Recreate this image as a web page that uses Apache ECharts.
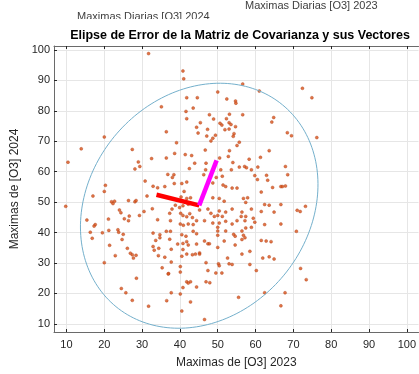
<!DOCTYPE html>
<html><head><meta charset="utf-8">
<script src="https://cdn.jsdelivr.net/npm/echarts@6/dist/echarts.min.js"></script>
<style>html,body{margin:0;padding:0;background:#fff}#c{width:419px;height:374px}</style>
</head><body><div id="c"></div>
<script>
// Daily maxima pairs: [O3 2023, O3 2024]
const dailyMaxPairs = [
[31.7,98.8],[35.1,81.3],[20,71.4],[36.4,73.1],[13.9,67.5],[27.4,67.3],[10.4,63.1],[29.0,63.2],[32.5,64.3],[36.4,64.5],[29.4,61.7],[28.1,60.9],[36.8,59.1],[20.3,55.5],[30.8,56.9],[32.9,55.2],[34.1,54.7],[36.0,55.1],
[40.8,93.1],[41.0,90.5],[56.6,88.8],[50.0,86.2],[61.0,86.5],[41.8,84.3],[44.6,84.3],[52.4,83.9],[54.7,83.2],[54.8,82.5],[43.5,80.9],[41.6,79.8],[47.8,78.7],[53.1,78.9],[56.6,78.7],[41.8,77.4],[48.9,77.3],[52.3,77.4],[64.8,77.8],[45.4,76.1],[50.6,75.9],[51.1,75.3],[53.0,76.1],[53.5,75.5],[64.3,76.3],[54.7,74.8],[44.4,74.6],[47.3,73.9],[51.9,73.8],[53.0,74.0],[44.8,72.7],[49.4,72.0],[54.3,72.5],[54.1,71.6],[47.1,71.7],[48.7,71.0],[48.2,70.1],[39.1,69.5],[55.7,69.7],[55.1,68.6],[46.7,67.1],[63.6,66.9],[38.6,66.0],[41.4,65.6],[43.1,65.3],[53.1,66.9],[52.8,65.0],[50.5,64.5],[46.9,62.8],[43.9,62.8],[54.0,63.0],[58.3,64.1],[61.3,64.7],[42.5,61.0],[46.8,60.6],[50.8,60.6],[55.7,61.5],[57.1,61.7],[57.6,61.3],[58.9,60.6],[60.6,61.5],[53.6,60.6],[38.4,59.0],[46.3,59.0],[49.6,58.1],[51.2,58.5],[59.8,58.7],[62.9,58.8],[38.0,58.1],[38.5,56.1],[40.5,56.1],[41.8,56.6],[48.7,56.3],[51.4,55.6],[52.1,55.1],[53.8,54.6],[55.1,54.6],[60.5,57.4],[63.2,57.2],[64.5,54.8],[66.7,55.1],
[72.4,87.4],[74.9,84.3],[68.4,72.8],[69.5,71.8],[76.2,71.2],[67.9,61.7],[68.5,59.0],[67.1,55.1],[67.9,55.3],
[20.0,53.5],[17.0,52.0],[9.8,48.6],[21.9,50.1],[22.7,50.3],[22.3,49.5],[26.4,50.5],[28.1,50.1],[28.4,50.5],[31.3,52.0],[24.0,47.4],[24.4,46.5],[26.6,45.4],[29.3,45.6],[30.5,46.9],[32.7,47.8],[15.4,44.1],[21.1,44.4],[25.3,44.5],[26.4,43.9],[34.1,44.2],[17.6,42.6],[17.3,42.1],[16.3,40.1],[19.5,39.9],[21.2,40.7],[23.6,40.9],[23.8,40.1],[25.0,39.4],[32.9,39.8],[34.7,39.3],[36.4,40.4],[16.8,38.1],[24.7,37.7],[33.6,37.4],[34.7,38.3],[21.4,35.8],[32.9,35.4],[34.4,34.8],[26.1,34.8],[33.2,34.2],[26.9,33.2],[27.4,32.7],[28.4,32.5],[22.9,32.4],[34.3,32.4],[27.7,31.6],[36.0,31.9],[20.0,30.1],[35.3,28.4],[37.0,26.5],[28.5,25.0],[24.5,21.6],[25.7,20.2],[27.4,17.7],[36.5,17.6],[31.7,15.8],
[41.1,53.5],[40.3,51.7],[41.8,51.2],[42.8,51.4],[38.8,49.0],[39.9,48.2],[40.8,48.8],[42.2,49.3],[37.9,47.7],[37.3,46.3],[40.2,46.3],[40.8,45.6],[41.8,45.2],[42.6,46.2],[43.3,44.9],[37.5,43.9],[40.1,42.8],[40.9,42.4],[42.2,42.8],[43.5,42.6],[44.4,43.9],[37.5,40.4],[40.5,39.3],[41.6,38.8],[43.5,40.4],[44.4,39.6],[37.3,37.8],[39.4,36.2],[40.8,36.4],[41.8,37.0],[42.2,35.9],[44.4,36.2],[40.8,34.4],[37.7,34.5],[41.8,32.9],[43.3,32.7],[44.1,32.9],[45.2,33.3],[40.5,32.2],[37.7,30.3],[40.1,28.8],[36.9,26.4],[40.1,27.0],[41.8,23.8],[42.8,23.8],[42.2,23.4],[44.4,22.1],[40.8,21.9],[37.7,20.2],[40.1,19.8],[42.8,17.2],[40.5,14.2],[46.5,11.4],
[48.7,51.4],[50.4,51.2],[51.7,50.3],[56.8,51.2],[57.9,51.4],[57.4,49.9],[61.5,53.3],[62.4,49.2],[63.6,49.0],[66.7,49.2],[45.2,47.4],[47.4,47.7],[48.2,46.3],[49.1,45.3],[50.4,47.1],[50.0,45.6],[51.2,45.3],[52.1,46.7],[53.8,47.7],[56.4,46.7],[58.9,47.7],[61.5,46.9],[64.9,46.7],[57.4,45.3],[56.2,45.3],[59.4,44.7],[46.5,43.9],[48.7,43.1],[50.0,41.7],[50.4,43.1],[52.1,43.7],[53.8,42.8],[55.1,43.9],[57.2,43.9],[59.8,43.4],[57.4,41.5],[58.9,41.7],[56.4,40.5],[52.1,40.5],[50.0,40.5],[62.4,42.6],[66.7,42.8],[54.2,39.4],[54.6,38.8],[56.8,39.1],[57.2,38.3],[56.4,37.7],[50.0,39.1],[47.4,36.3],[47.8,36.3],[46.5,37.2],[51.7,37.2],[54.6,35.9],[61.5,37.4],[62.8,37.2],[64.1,37.0],[45.2,32.9],[50.0,35.1],[52.6,31.6],[56.4,32.9],[58.5,33.8],[61.9,31.6],[63.6,32.0],[64.9,31.3],[46.9,30.1],[50.2,29.7],[50.4,29.1],[53.0,29.7],[53.8,29.5],[58.5,29.5],[60.2,27.5],[49.5,26.7],[51.1,26.7],[47.4,27.5],[46.9,23.8],[47.9,23.5],[55.5,18.7],[62.4,20.2],[66.7,15.9],
[71.0,47.3],[71.8,46.9],[73.2,48.6],[70.8,40.4],[71.9,28.2],[73.4,24.5],[67.8,20.2]
];
const xTicks = [10,20,30,40,50,60,70,80,90,100];
const yTicks = [10,20,30,40,50,60,70,80,90,100];
const xRange = [6.7, 103.1];
const yRange = [7.3, 101.3];
// Eigenvectors (origin and tips)
const vecOrigin = [45.1, 48.9];
const vecMinorEnd = [33.8, 52.4];
const vecMajorEnd = [49.7, 63.7];
// Error ellipse parameters
const ellipseCenter = [45.1, 48.8];
const ellipseSemiAxes = [41.1, 30.3];
const ellipseAngleDeg = 72.7;

const ellipsePts = [];
{
  const th = ellipseAngleDeg * Math.PI / 180;
  for (let i = 0; i <= 200; i++) {
    const t = i / 200 * 2 * Math.PI;
    const a = ellipseSemiAxes[0] * Math.cos(t), b = ellipseSemiAxes[1] * Math.sin(t);
    ellipsePts.push([ellipseCenter[0] + a * Math.cos(th) - b * Math.sin(th),
                     ellipseCenter[1] + a * Math.sin(th) + b * Math.cos(th)]);
  }
}
const FONT = 'Liberation Sans, Arial, Helvetica, sans-serif';
const axisCol = '#6a6a6a';
const chart = echarts.init(document.getElementById('c'));
chart.setOption({
  animation: false,
  backgroundColor: '#fff',
  grid: {left: 54, top: 46, width: 375, height: 291, containLabel: false},
  xAxis: [{
    type: 'value', min: xRange[0], max: xRange[1], position: 'bottom',
    name: 'Maximas de [O3] 2023', nameLocation: 'middle', nameGap: 25,
    nameTextStyle: {fontFamily: FONT, fontSize: 12, color: '#262626'},
    axisLine: {show: true, onZero: false, lineStyle: {color: axisCol, width: 1}},
    axisTick: {show: true, inside: true, length: 3, customValues: xTicks, lineStyle: {color: '#262626'}},
    axisLabel: {customValues: xTicks, fontFamily: FONT, fontSize: 11, color: '#262626', margin: 7},
    splitLine: {show: true, lineStyle: {color: '#e6e6e6', width: 1}}
  }, {
    type: 'value', min: xRange[0], max: xRange[1], position: 'top',
    axisLine: {show: true, onZero: false, lineStyle: {color: axisCol, width: 1}},
    axisTick: {show: true, inside: true, length: 3, customValues: xTicks, lineStyle: {color: '#262626'}},
    axisLabel: {show: false}, splitLine: {show: false}
  }],
  yAxis: [{
    type: 'value', min: yRange[0], max: yRange[1], position: 'left',
    name: 'Maximas de [O3] 2024', nameLocation: 'middle', nameGap: 25, nameRotate: 90,
    nameTextStyle: {fontFamily: FONT, fontSize: 12, color: '#262626'},
    axisLine: {show: true, onZero: false, lineStyle: {color: axisCol, width: 1}},
    axisTick: {show: true, inside: true, length: 3, customValues: yTicks, lineStyle: {color: '#262626'}},
    axisLabel: {customValues: yTicks, fontFamily: FONT, fontSize: 11, color: '#262626', margin: 4},
    splitLine: {show: true, lineStyle: {color: '#e6e6e6', width: 1}}
  }],
  graphic: [
    {type: 'text', left: 245, top: 0, z: 10, style: {text: 'Maximas Diarias [O3] 2023', font: '11px ' + FONT, fill: '#404040'}},
    {type: 'text', left: 77, top: 11, z: 10, style: {text: 'Maximas Diarias [O3] 2024', font: '11px ' + FONT, fill: '#404040'}},
    {type: 'rect', left: 60, top: 19, z: 20, shape: {width: 180, height: 9}, style: {fill: '#fff'}},
    {type: 'text', x: 240, y: 29, z: 30, style: {text: 'Elipse de Error de la Matriz de Covarianza y sus Vectores', font: 'bold 12.5px ' + FONT, fill: '#000', align: 'center', verticalAlign: 'top', textAlign: 'center', textVerticalAlign: 'top'}}
  ],
  series: [
    {type: 'scatter', data: dailyMaxPairs, symbol: 'circle', symbolSize: 3,
     itemStyle: {color: '#D95319', borderColor: '#b0401a', borderWidth: 0.5}, z: 2},
    {type: 'line', data: ellipsePts, showSymbol: false, smooth: false,
     lineStyle: {color: '#74b0cc', width: 1}, z: 3},
    {type: 'line', data: [vecOrigin, vecMinorEnd], showSymbol: false,
     lineStyle: {color: '#ff0000', width: 4.5, cap: 'butt'}, z: 4},
    {type: 'line', data: [vecOrigin, vecMajorEnd], showSymbol: false,
     lineStyle: {color: '#ff00ff', width: 4.5, cap: 'butt'}, z: 4}
  ]
});
</script></body></html>
